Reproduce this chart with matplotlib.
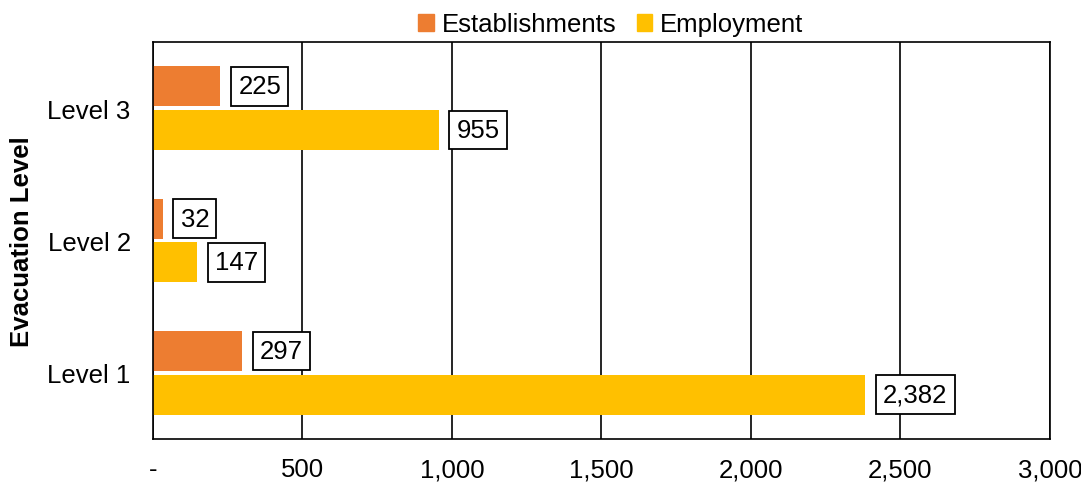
import numpy as np
import matplotlib.pyplot as plt
from matplotlib.patches import Patch
from matplotlib.ticker import FuncFormatter

plt.rcParams['font.family'] = ['Liberation Sans', 'DejaVu Sans']

levels = ["Level 1", "Level 2", "Level 3"]
establishments = [297, 32, 225]
employment = [2382, 147, 955]

ORANGE = "#ED7D31"
YELLOW = "#FFC000"
FS = 18.5

fig = plt.figure(figsize=(10.81, 4.85), dpi=100)
ax = fig.add_axes([0.1415, 0.0928, 0.8298, 0.8185])

y = np.arange(len(levels))
h = 0.30
off = 0.165

b1 = ax.barh(y + off, establishments, height=h, color=ORANGE)
b2 = ax.barh(y - off, employment, height=h, color=YELLOW)

box = dict(boxstyle="square,pad=0.28", fc="white", ec="black", lw=1.3)
for bars, vals in [(b1, establishments), (b2, employment)]:
    for bar, v in zip(bars, vals):
        ax.annotate(f"{v:,}", xy=(bar.get_width(), bar.get_y() + bar.get_height() / 2),
                    xytext=(13, 0), textcoords="offset points",
                    ha="left", va="center", fontsize=FS, bbox=box)

ax.set_xlim(0, 3000)
ax.set_ylim(-0.5, 2.5)
ax.set_xticks(np.arange(0, 3001, 500))
ax.xaxis.set_major_formatter(FuncFormatter(lambda v, p: "-" if v == 0 else f"{int(v):,}"))
ax.set_yticks(y)
ax.set_yticklabels(levels)
ax.tick_params(axis="both", length=0, labelsize=FS)
ax.tick_params(axis="x", pad=13)
ax.tick_params(axis="y", pad=16)
ax.grid(axis="x", color="black", lw=1.2)
ax.set_axisbelow(True)
for s in ax.spines.values():
    s.set_color("black")
    s.set_linewidth(1.2)

ax.set_ylabel("Evacuation Level", fontsize=FS, fontweight="bold", labelpad=10)

handles = [Patch(color=ORANGE, label="Establishments"), Patch(color=YELLOW, label="Employment")]
fig.legend(handles=handles, loc="upper center", bbox_to_anchor=(0.565, 1.02), ncol=2,
           frameon=False, fontsize=FS, handlelength=0.6, handleheight=0.6,
           handletextpad=0.3, columnspacing=0.8)

fig.savefig("out.png", dpi=100)
